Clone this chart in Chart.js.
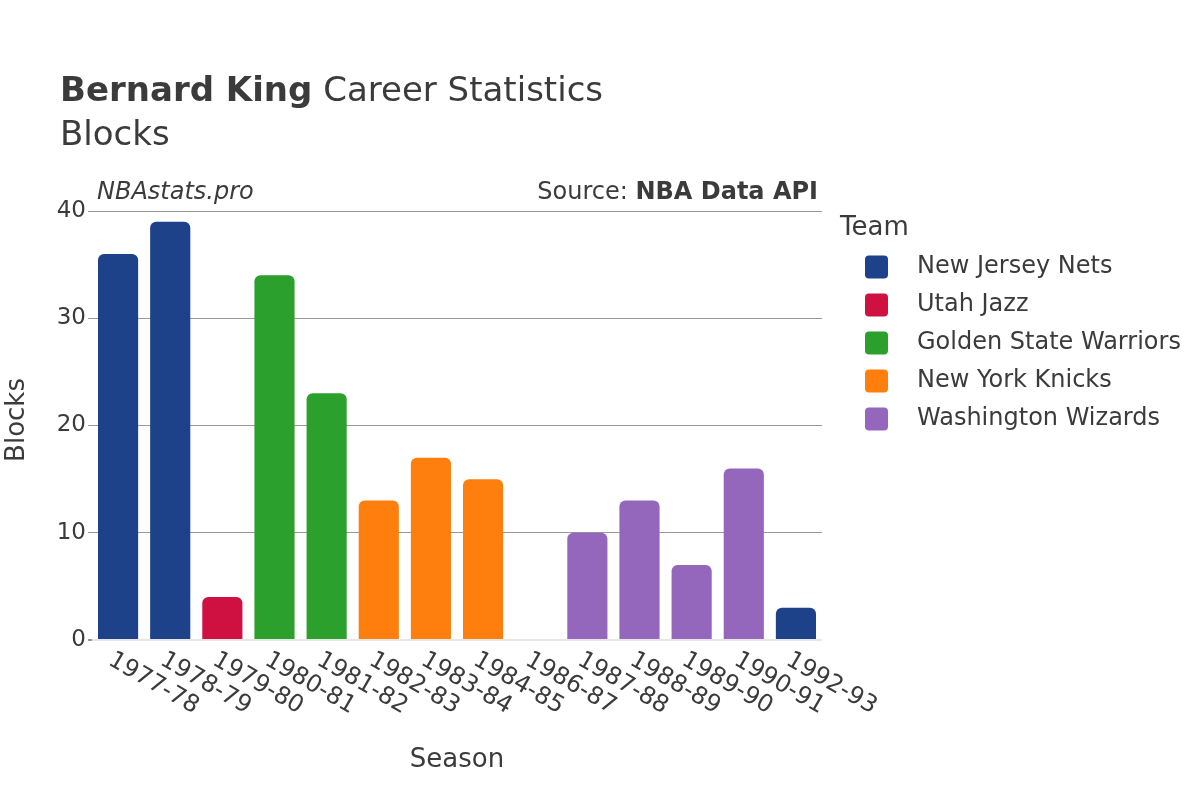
<!DOCTYPE html>
<html>
<head>
<meta charset="utf-8">
<script src="https://cdn.jsdelivr.net/npm/chart.js@4/dist/chart.umd.min.js"></script>
<style>
  html, body { margin: 0; padding: 0; background: #fff; }
  #wrap { width: 1200px; height: 800px; }
</style>
</head>
<body>
<div id="wrap"><canvas id="canvas" width="1200" height="800"></canvas></div>
<script>
// seasons and blocks per season
var seasons = ["1977-78","1978-79","1979-80","1980-81","1981-82","1982-83","1983-84","1984-85","1986-87","1987-88","1988-89","1989-90","1990-91","1992-93"];
var blocks = [36,39,4,34,23,13,17,15,0,10,13,7,16,3];
var seasonTeam = ["New Jersey Nets","New Jersey Nets","Utah Jazz","Golden State Warriors","Golden State Warriors","New York Knicks","New York Knicks","New York Knicks","New York Knicks","Washington Wizards","Washington Wizards","Washington Wizards","Washington Wizards","New Jersey Nets"];

var teams = ["New Jersey Nets","Utah Jazz","Golden State Warriors","New York Knicks","Washington Wizards"];
var teamColors = ["#1d428a","#ce1141","#2ca02c","#ff7f0e","#9467bd"];

var yTicks = [0,10,20,30,40];

var FONT = "DejaVu Sans";
var TXT = "#3b3b3b";

var datasets = teams.map(function(t, k){
    return {
        label: t,
        data: seasons.map(function(s, i){ return seasonTeam[i] === t ? blocks[i] : null; }),
        backgroundColor: teamColors[k],
        borderWidth: 0,
        borderRadius: 6,
        borderSkipped: 'start',
        barPercentage: 0.77,
        categoryPercentage: 1.0
    };
});

// titles, notes, axis titles, rotated x labels and legend
var decorations = {
    id: 'decorations',
    afterDraw: function(chart){
        var c = chart.ctx;
        var area = chart.chartArea;
        c.save();
        c.fillStyle = TXT;
        c.textBaseline = 'alphabetic';
        c.textAlign = 'left';

        // title
        c.font = "bold 34px '" + FONT + "'";
        var bold = "Bernard King";
        c.fillText(bold, 60, 101);
        var w = c.measureText(bold).width;
        c.font = "34px '" + FONT + "'";
        c.fillText(" Career Statistics", 60 + w, 101);
        c.fillText("Blocks", 60, 145);

        // notes above plot
        c.font = "italic 24px '" + FONT + "'";
        c.fillText("NBAstats.pro", 97, 199);
        c.textAlign = 'right';
        c.font = "bold 24px '" + FONT + "'";
        var src = "NBA Data API";
        c.fillText(src, 818, 199);
        var sw = c.measureText(src).width;
        c.font = "24px '" + FONT + "'";
        c.fillText("Source: ", 818 - sw, 199);

        // axis titles
        c.textAlign = 'center';
        c.textBaseline = 'middle';
        c.font = "26px '" + FONT + "'";
        c.fillText("Season", (area.left + area.right) / 2, 760);
        c.save();
        c.translate(17, 420);
        c.rotate(-Math.PI / 2);
        c.fillText("Blocks", 0, 0);
        c.restore();

        // rotated x tick labels
        var xs = chart.scales.x;
        c.font = "24px '" + FONT + "'";
        c.textAlign = 'left';
        c.textBaseline = 'top';
        seasons.forEach(function(s, i){
            var x = xs.getPixelForTick(i);
            c.save();
            c.translate(x - 2, area.bottom + 8);
            c.rotate(30 * Math.PI / 180);
            c.fillText(s, 0, 0);
            c.restore();
        });

        // legend
        c.textAlign = 'left';
        c.textBaseline = 'middle';
        c.font = "26px '" + FONT + "'";
        c.fillText("Team", 840, 228);
        c.font = "24px '" + FONT + "'";
        chart.data.datasets.forEach(function(ds, i){
            var y = 267 + i * 38;
            c.fillStyle = ds.backgroundColor;
            c.beginPath();
            c.roundRect(865, y - 11.5, 23, 23, 4);
            c.fill();
            c.fillStyle = TXT;
            c.fillText(ds.label, 917, y);
        });
        c.restore();
    }
};

window.onload = function(){
    var ctx = document.getElementById("canvas").getContext("2d");
    window.myBar = new Chart(ctx, {
        type: 'bar',
        data: { labels: seasons, datasets: datasets },
        plugins: [decorations],
        options: {
            responsive: false,
            animation: false,
            layout: { padding: { top: 211, right: 378, bottom: 0, left: 0 } },
            plugins: {
                legend: { display: false },
                title: { display: false },
                tooltip: { enabled: false }
            },
            scales: {
                x: {
                    stacked: true,
                    grid: { display: false },
                    border: { display: false },
                    ticks: { display: false },
                    afterFit: function(s){ s.height = 160; }
                },
                y: {
                    stacked: true,
                    min: 0,
                    max: 40,
                    afterBuildTicks: function(s){ s.ticks = yTicks.map(function(v){ return { value: v }; }); },
                    afterFit: function(s){ s.width = 92; },
                    border: { display: false },
                    grid: {
                        drawTicks: true,
                        tickLength: 4,
                        tickColor: '#999999',
                        color: function(c){ return c.tick && c.tick.value === 0 ? '#e6e6e6' : '#999999'; },
                        lineWidth: function(c){ return c.tick && c.tick.value === 0 ? 2 : 1; }
                    },
                    ticks: {
                        padding: 2,
                        color: TXT,
                        font: { family: FONT, size: 23 }
                    }
                }
            }
        }
    });
};
</script>
</body>
</html>
